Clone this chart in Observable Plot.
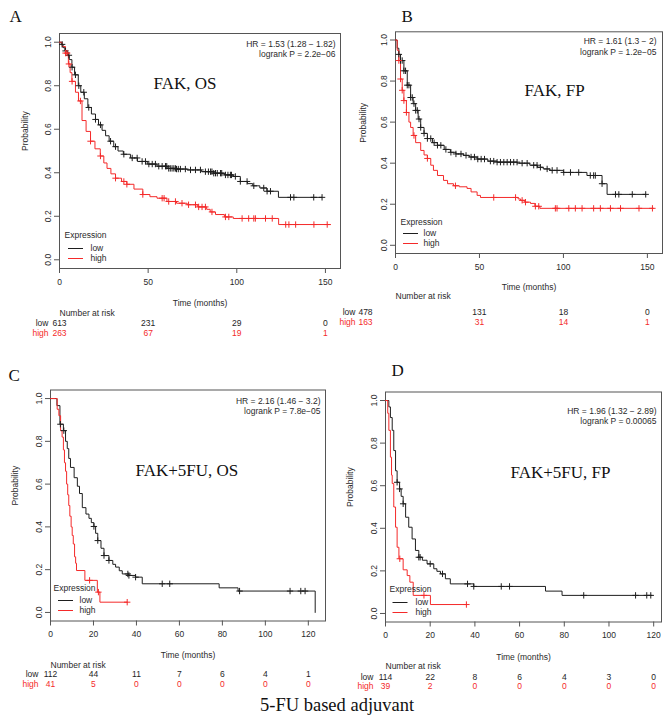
<!DOCTYPE html>
<html><head><meta charset="utf-8">
<script src="https://cdn.jsdelivr.net/npm/d3@7"></script>
<script src="https://cdn.jsdelivr.net/npm/@observablehq/plot@0.6"></script>
<style>
body{margin:0;background:#fff;}
#fig{position:relative;width:663px;height:721px;overflow:hidden;background:#fff;}
.caption{position:absolute;left:260px;top:696px;font-size:18.5px;line-height:18.5px;font-family:"Liberation Serif","Times New Roman",serif;color:#111;white-space:nowrap;}
</style></head><body><div id="fig"><div class="caption">5-FU based adjuvant</div></div>
<script>
// ---------------- DATA ----------------
const ticksAB = [0, 50, 100, 150];
const ticksCD = [0, 20, 40, 60, 80, 100, 120];
const yTicks = [0, 0.2, 0.4, 0.6, 0.8, 1.0];

// Panel A: FAK, OS  [time, survival] steps
const lowA = [[0,1],[1,0.99],[2,0.975],[3,0.96],[4.4,0.94],[5.5,0.92],[7,0.885],[8.5,0.85],[10.6,0.80],[12,0.77],[14,0.74],[16,0.70],[18,0.67],[20.3,0.645],[22,0.62],[24,0.595],[26,0.57],[28,0.545],[30.6,0.52],[33,0.50],[36,0.485],[40,0.468],[44,0.452],[49.5,0.44],[55,0.43],[60.7,0.42],[66,0.417],[72,0.413],[80,0.405],[87,0.398],[93,0.39],[98,0.383],[102,0.36],[106,0.35],[109,0.34],[113,0.33],[117,0.315],[123.5,0.287],[148.1,0.287]];
const highA = [[0,1],[1.5,0.98],[3.4,0.95],[5,0.90],[6,0.86],[7,0.82],[9,0.77],[10.7,0.73],[12.7,0.64],[15,0.59],[17.5,0.545],[20,0.51],[23,0.477],[25,0.445],[26.8,0.42],[29,0.395],[31.6,0.375],[35,0.36],[38,0.347],[42,0.325],[47,0.30],[51,0.29],[55,0.283],[60.6,0.268],[66,0.26],[72,0.253],[78,0.243],[83,0.232],[85,0.22],[88,0.208],[93,0.197],[98,0.19],[123.6,0.162],[153,0.162]];
const censLowA = [1.5,3.4,5.3,7.1,9,10.9,13.7,16.5,20.3,23.1,28.8,31.6,36.3,41,43.8,46.6,48.5,50.4,52.3,54.1,56,57.9,59.8,60.5,61.6,62.5,63.5,64.5,65.4,66,67,68.2,71,73.9,76.7,79.5,82.3,84,85.2,86,87,88,89,90.8,91.5,93.6,95,96.4,97,99.2,102,105.8,109.6,115.2,117.1,119,130.3,132.2,143.4,148.1];
const censHighA = [3.4,4.3,5.3,7.1,11.8,17.5,23.1,31.6,36.3,38,47,57.9,59,61.6,65.4,69.1,72.8,76.7,78.5,80.4,82.3,86,93.6,95.5,103,106.7,109.6,110.5,116.2,120,127.6,129.4,133.2,143.5,151];
const riskTimesAB = [0, 50, 100, 150];
const riskLowA = [613, 231, 29, 0];
const riskHighA = [263, 67, 19, 1];

// Panel B: FAK, FP
const lowB = [[0,1],[1,0.96],[2,0.93],[3,0.90],[5,0.85],[7,0.78],[9,0.72],[10.5,0.69],[12,0.657],[13.5,0.615],[15,0.574],[17,0.545],[19,0.52],[22,0.50],[25,0.487],[29,0.467],[32.7,0.453],[36,0.445],[40.6,0.438],[44,0.43],[48.6,0.42],[55,0.41],[60.5,0.405],[72.5,0.40],[80,0.39],[84.5,0.38],[88,0.372],[92,0.365],[100,0.355],[114,0.34],[123,0.30],[126,0.248],[149,0.248]];
const highB = [[0,1],[1,0.95],[2,0.90],[3,0.81],[4,0.755],[5,0.705],[6.5,0.647],[8,0.60],[9,0.574],[10.5,0.535],[12,0.50],[15,0.462],[17,0.44],[19,0.423],[21,0.39],[22.6,0.365],[25,0.34],[28.6,0.316],[31,0.30],[34.5,0.29],[38,0.285],[42.6,0.277],[45,0.26],[48.6,0.243],[50.6,0.233],[73,0.226],[74.4,0.219],[77,0.21],[80.4,0.204],[83,0.19],[86,0.18],[153.6,0.18]];
const censLowB = [2,3,4,5,6,7,8,9,10,11,12,13,14,15,17,19,21,23,25,27,30,33,36,39,42,45,47,49,51,53,56.5,58.5,60.5,62.5,64.5,66.5,68.5,70.4,72.4,75.4,78.4,82.3,84.3,86.3,90.3,93.3,96.2,100.2,104.2,109.1,116,118,119,123,131,133,141,149];
const censHighB = [2,3,4,5,6.5,11,19,35.7,58.5,71.5,75.4,77.4,83.3,85.3,95.2,96.2,103.2,107.1,111.1,118,122,128,134,145,153];
const riskLowB = [478, 131, 18, 0];
const riskHighB = [163, 31, 14, 1];

// Panel C: FAK+5FU, OS
const lowC = [[0,1],[1.5,1],[3,0.967],[4.4,0.88],[6,0.85],[7,0.80],[7.8,0.766],[8.5,0.72],[9.3,0.678],[11,0.63],[12.5,0.59],[13.5,0.556],[14.8,0.49],[16.5,0.46],[17.9,0.44],[19,0.42],[20.2,0.402],[21,0.37],[22,0.336],[23.5,0.30],[24.9,0.266],[27.2,0.243],[29,0.225],[30.3,0.212],[32,0.195],[33.4,0.18],[36.5,0.173],[39.6,0.165],[42.7,0.134],[78.5,0.115],[87.3,0.10],[123.2,0]];
const highC = [[0,1],[2.3,1],[3.1,0.95],[3.9,0.92],[4.7,0.85],[5.4,0.82],[6,0.76],[6.5,0.70],[7,0.66],[7.5,0.60],[8,0.55],[8.5,0.50],[9,0.45],[9.6,0.40],[10.1,0.36],[10.6,0.32],[11.2,0.26],[11.7,0.23],[12.1,0.196],[16,0.15],[21.8,0.095],[23,0.048],[35.7,0.048]];
const censLowC = [4.6,6.2,20.2,22,24.9,27.2,36,36.5,39.6,52,55.5,88,111.5,116.5,118.5];
const censHighC = [18.2,22.3,35.7];
const riskTimesCD = [0, 20, 40, 60, 80, 100, 120];
const riskLowC = [112, 44, 11, 7, 6, 4, 1];
const riskHighC = [41, 5, 0, 0, 0, 0, 0];

// Panel D: FAK+5FU, FP
const lowD = [[0,1],[1.5,0.97],[2.2,0.92],[3,0.86],[3.7,0.765],[4.5,0.67],[5.2,0.616],[6.3,0.585],[7,0.55],[7.9,0.515],[9,0.452],[10.4,0.405],[11.9,0.35],[13.4,0.296],[14.9,0.264],[16.5,0.25],[18.6,0.233],[21.6,0.21],[23,0.198],[24.6,0.186],[26.8,0.163],[29,0.139],[39.5,0.127],[71.6,0.105],[79,0.085],[119.3,0.085]];
const highD = [[0,1],[1,0.94],[1.5,0.86],[2.2,0.734],[2.7,0.65],[3,0.61],[3.7,0.50],[4.5,0.405],[5.2,0.311],[6,0.257],[7.9,0.205],[9.7,0.178],[10.9,0.147],[12.4,0.085],[20.1,0.042],[36.5,0.042]];
const censLowD = [5.2,6.3,7.9,14.9,15.5,20,25.5,36.7,39.5,51.8,55.5,88.7,111.9,116.9,118.7];
const censHighD = [6.4,17.2,36.2];
const riskLowD = [114, 22, 8, 6, 4, 3, 0];
const riskHighD = [39, 2, 0, 0, 0, 0, 0];

const panels = [
  {key:"A", title:"FAK, OS", hr:["HR = 1.53 (1.28 \u2212 1.82)","logrank P = 2.2e\u221206"], xmax:158.5, xticks:ticksAB,
   low:lowA, high:highA, censLow:censLowA, censHigh:censHighA, riskTimes:riskTimesAB, riskLow:riskLowA, riskHigh:riskHighA},
  {key:"B", title:"FAK, FP", hr:["HR = 1.61 (1.3 \u2212 2)","logrank P = 1.2e\u221205"], xmax:159, xticks:ticksAB,
   low:lowB, high:highB, censLow:censLowB, censHigh:censHighB, riskTimes:riskTimesAB, riskLow:riskLowB, riskHigh:riskHighB},
  {key:"C", title:"FAK+5FU, OS", hr:["HR = 2.16 (1.46 \u2212 3.2)","logrank P = 7.8e\u221205"], xmax:128, xticks:ticksCD,
   low:lowC, high:highC, censLow:censLowC, censHigh:censHighC, riskTimes:riskTimesCD, riskLow:riskLowC, riskHigh:riskHighC},
  {key:"D", title:"FAK+5FU, FP", hr:["HR = 1.96 (1.32 \u2212 2.89)","logrank P = 0.00065"], xmax:123.5, xticks:ticksCD,
   low:lowD, high:highD, censLow:censLowD, censHigh:censHighD, riskTimes:riskTimesCD, riskLow:riskLowD, riskHigh:riskHighD}
];

// ---------------- LAYOUT ----------------
const layout = {
  A:{left:0, top:0, width:345, height:310, mL:59, mR:5, mT:33, mB:42, letter:[-50,-17], title:[94,50], hrDx:-5, hrDy:[11,21],
     probDx:-34, timeDy:35, leg:{head:[5,-33], rows:[-20,-10], sw:16, txt:31},
     riskTop:305, riskH:35, riskTitleY:8, riskRows:[18,28], rowDx:-11, firstDx:0},
  B:{left:330, top:0, width:333, height:300, mL:65, mR:1, mT:31.3, mB:47, letter:[6,-15.3], title:[129,58.7], hrDx:-6, hrDy:[9.7,20.7],
     probDx:-32, timeDy:34, leg:{head:[5,-31], rows:[-20,-10], sw:15, txt:28},
     riskTop:290, riskH:40, riskTitleY:6, riskRows:[22,32], rowDx:-40, firstDx:-30},
  C:{left:0, top:345, width:330, height:320, mL:50, mR:5, mT:44.5, mB:44.5, letter:[-42,-14.5], title:[85,80.5], hrDx:-5, hrDy:[11.5,21.5],
     probDx:-35, timeDy:34.5, leg:{head:[3,-32.5], rows:[-20.5,-10.5], sw:15, txt:29},
     riskTop:658, riskH:35, riskTitleY:7, riskRows:[16,26], rowDx:-12, firstDx:0},
  D:{left:330, top:345, width:333, height:320, mL:55, mR:2, mT:46.5, mB:43.5, letter:[6,-21.5], title:[125,80.5], hrDx:-5, hrDy:[19.5,29],
     probDx:-35, timeDy:35.5, leg:{head:[4,-32.5], rows:[-19.5,-9.5], sw:14.5, txt:30},
     riskTop:658, riskH:35, riskTitleY:8, riskRows:[19,28], rowDx:-12, firstDx:0}
};

const SANS = "'Liberation Sans', Arial, Helvetica, sans-serif";
const SERIF = "'Liberation Serif', 'Times New Roman', serif";
const BLACK = "#1e1e1e", RED = "#f42a2a", TXT = "#2a2a2a", AX = "#555";
const col = g => g === "high" ? RED : BLACK;
// horizontal-line symbol for legend swatches
const hLine = {draw(context, size) { const r = Math.sqrt(size / Math.PI); context.moveTo(-r, 0); context.lineTo(r, 0); }};

function survAt(curve, t) {
  let s = curve[0][1];
  for (const [ti, si] of curve) if (ti <= t) s = si;
  return s;
}

const fig = document.getElementById("fig");

for (const p of panels) {
  const L = layout[p.key];
  const lines = [
    ...p.low.map(([t, s]) => ({t, s, g:"low"})),
    ...p.high.map(([t, s]) => ({t, s, g:"high"}))
  ];
  const cens = [
    ...p.censLow.map(t => ({t, s:survAt(p.low, t), g:"low"})),
    ...p.censHigh.map(t => ({t, s:survAt(p.high, t), g:"high"}))
  ];
  const M = {lineAnchor:"middle", fontSize:8.5, fill:TXT};
  const legendMarks = [];
  ["low", "high"].forEach((g, i) => {
    legendMarks.push(Plot.dot([g], {frameAnchor:"bottom-left", dx:L.leg.sw, dy:L.leg.rows[i], symbol:hLine, r:7.5, fill:"none", stroke:col(g), strokeWidth:1}));
    legendMarks.push(Plot.text([g], {...M, frameAnchor:"bottom-left", dx:L.leg.txt, dy:L.leg.rows[i], textAnchor:"start"}));
  });

  const main = Plot.plot({
    width:L.width, height:L.height,
    marginLeft:L.mL, marginRight:L.mR, marginTop:L.mT, marginBottom:L.mB,
    x:{domain:[0, p.xmax]},
    y:{domain:[-0.04, 1.04]},
    style:{position:"absolute", left:L.left + "px", top:L.top + "px", background:"transparent", overflow:"visible", fontFamily:SANS, fontSize:"8.5px", color:TXT},
    marks:[
      Plot.axisX({ticks:p.xticks, tickSize:5, tickPadding:5, label:null, fontSize:8.5, color:AX, fill:TXT}),
      Plot.axisY({ticks:yTicks, tickSize:5, tickFormat:d3.format(".1f"), tickRotate:-90, label:null, fontSize:8.5, color:AX, fill:TXT}),
      Plot.frame({stroke:AX}),
      Plot.line(lines, {x:"t", y:"s", z:"g", stroke:d => col(d.g), curve:"step-after", strokeWidth:1}),
      Plot.dot(cens, {x:"t", y:"s", symbol:"plus", r:2.2, stroke:d => col(d.g), strokeWidth:1}),
      Plot.text(["Probability"], {...M, frameAnchor:"left", rotate:-90, dx:L.probDx}),
      Plot.text(["Time (months)"], {...M, frameAnchor:"bottom", dy:L.timeDy}),
      Plot.text([p.hr[0]], {...M, frameAnchor:"top-right", dx:L.hrDx, dy:L.hrDy[0], textAnchor:"end"}),
      Plot.text([p.hr[1]], {...M, frameAnchor:"top-right", dx:L.hrDx, dy:L.hrDy[1], textAnchor:"end"}),
      Plot.text([p.title], {frameAnchor:"top-left", lineAnchor:"middle", dx:L.title[0], dy:L.title[1], textAnchor:"start", fontFamily:SERIF, fontSize:17, fill:"#111"}),
      Plot.text([p.key], {frameAnchor:"top-left", lineAnchor:"middle", dx:L.letter[0], dy:L.letter[1], fontFamily:SERIF, fontSize:17, fill:"#111"}),
      Plot.text(["Expression"], {...M, frameAnchor:"bottom-left", dx:L.leg.head[0], dy:L.leg.head[1], textAnchor:"start"}),
      ...legendMarks
    ]
  });
  fig.appendChild(main);

  const risk = [
    ...p.riskTimes.map((t, i) => ({t, i, g:"low", n:p.riskLow[i]})),
    ...p.riskTimes.map((t, i) => ({t, i, g:"high", n:p.riskHigh[i]}))
  ];
  const riskPlot = Plot.plot({
    width:L.width, height:L.riskH,
    marginLeft:L.mL, marginRight:L.mR, marginTop:0, marginBottom:0,
    x:{domain:[0, p.xmax], axis:null},
    y:{type:"point", domain:["low", "high"], range:L.riskRows, padding:0, axis:null},
    style:{position:"absolute", left:L.left + "px", top:L.riskTop + "px", background:"transparent", overflow:"visible", fontFamily:SANS, fontSize:"8.5px", color:TXT},
    marks:[
      Plot.text(["Number at risk"], {...M, frameAnchor:"top-left", dy:L.riskTitleY, textAnchor:"start"}),
      Plot.text(["low", "high"], {...M, x:() => 0, y:d => d, text:d => d, dx:L.rowDx, textAnchor:"end", fill:d => col(d)}),
      Plot.text(risk.filter(d => d.i === 0), {...M, x:"t", y:"g", text:"n", dx:L.firstDx, fill:d => col(d.g)}),
      Plot.text(risk.filter(d => d.i > 0), {...M, x:"t", y:"g", text:"n", fill:d => col(d.g)})
    ]
  });
  fig.appendChild(riskPlot);
}
</script>
</body></html>
